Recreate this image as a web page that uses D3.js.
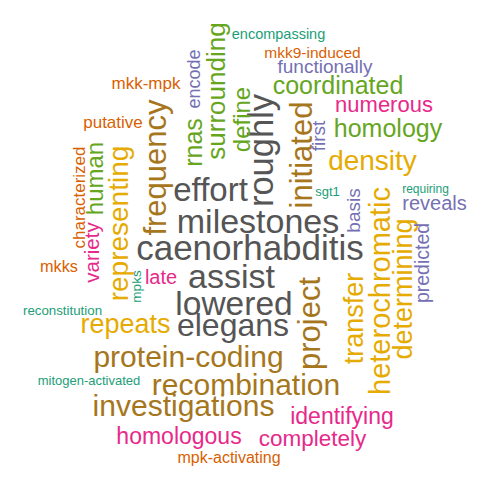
<!DOCTYPE html>
<html>
<head>
<meta charset="utf-8">
<script src="https://cdn.jsdelivr.net/npm/d3@7"></script>
<style>
  body { margin: 0; background: #fff; }
  text { font-family: "Liberation Sans", Arial, Helvetica, sans-serif; }
</style>
</head>
<body>
<div id="viz_container"></div>
<script>
// words of the cloud, with their frequency weight and colour group
const words = ["caenorhabditis", "milestones", "roughly", "effort", "assist", "lowered", "elegans",
  "frequency", "initiated", "project", "protein-coding", "recombination", "investigations",
  "density", "heterochromatic", "representing", "repeats", "transfer", "determining",
  "coordinated", "homology", "surrounding", "rnas", "define", "human",
  "numerous", "identifying", "completely", "homologous", "late", "variety",
  "functionally", "reveals", "predicted", "encode", "basis", "first",
  "putative", "mkk-mpk", "characterized", "mkk9-induced", "mkks", "mpk-activating",
  "encompassing", "requiring", "sgt1", "reconstitution", "mitogen-activated", "mpks"];

const freq = [35, 34, 34.5, 33, 34, 33.5, 32,
  31, 31, 31, 30, 30, 30,
  28, 29, 28, 27, 27, 27,
  25, 25, 26, 25, 24, 24,
  22, 23, 22.5, 23, 20, 20.5,
  19, 20, 19.5, 18, 19, 19,
  17, 17, 17, 15.5, 16.3, 16,
  14.5, 12, 13, 13.3, 13, 13.5];

// colour group: index into the Dark2 palette
const group = [7, 7, 7, 7, 7, 7, 7,
  6, 6, 6, 6, 6, 6,
  5, 5, 5, 5, 5, 5,
  4, 4, 4, 4, 4, 4,
  3, 3, 3, 3, 3, 3,
  2, 2, 2, 2, 2, 2,
  1, 1, 1, 1, 1, 1,
  0, 0, 0, 0, 0, 0];

// 1 = word placed vertically
const vertical = [0, 0, 1, 0, 0, 0, 0,
  1, 1, 1, 0, 0, 0,
  0, 1, 1, 0, 1, 1,
  0, 0, 1, 1, 1, 1,
  0, 0, 0, 0, 0, 1,
  0, 0, 1, 1, 1, 1,
  0, 0, 1, 0, 0, 0,
  0, 0, 0, 0, 0, 1];

// placement of each word in cloud units (0-100)
const posX = [50, 51.6, 52.1, 42.1, 46.3, 46.8, 46.6,
  31, 60.2, 61.8, 37.7, 49.2, 36.7,
  74.5, 76, 23.6, 25.1, 70.7, 80.6,
  67.6, 77.6, 43.2, 38.6, 48.3, 18.9,
  76.8, 68.4, 62.5, 35.8, 32.2, 18.4,
  65, 86.9, 84.4, 38.7, 70.7, 63.7,
  22.6, 29.2, 15.8, 62.5, 11.8, 45.8,
  55.7, 85.1, 65.5, 12.5, 17.8, 27.2];

const posY = [49.6, 44.2, 30.1, 37.8, 55.2, 60.6, 65,
  33.5, 31, 64.7, 71.3, 76.9, 81,
  32, 58.2, 44.7, 64.8, 63.7, 57.8,
  17.1, 25.7, 18.2, 28.5, 23.9, 35.7,
  20.8, 83.2, 87.6, 87.2, 55.3, 50.5,
  13.3, 40.6, 52.6, 15.8, 42.1, 27.2,
  24.5, 16.7, 39.5, 10.5, 53.3, 91.5,
  6.8, 37.7, 38.3, 62.1, 76.1, 57.3];

const width = 500;
const height = 500;

const data = words.map((w, i) => ({
  word: w, freq: freq[i], group: group[i], vertical: vertical[i], x: posX[i], y: posY[i]
}));

const svg = d3.select("#viz_container")
  .append("svg")
    .attr("width", width)
    .attr("height", height);

// scales
const xScale = d3.scaleLinear().domain([0, 100]).range([0, width]);
const yScale = d3.scaleLinear().domain([0, 100]).range([0, height]);
const sizeScale = d3.scaleLinear().domain([12, 35]).range([12, 35]);
const color = d3.scaleOrdinal()
  .domain(d3.range(8))
  .range(["#1B9E77", "#D95F02", "#7570B3", "#E7298A", "#66A61E", "#E6AB02", "#A6761D", "#555555"]);

svg.selectAll("text")
  .data(data)
  .join("text")
    .attr("transform", d => `translate(${xScale(d.x)},${yScale(d.y)})` + (d.vertical ? " rotate(-90)" : ""))
    .attr("text-anchor", "middle")
    .attr("dy", "0.35em")
    .style("font-size", d => sizeScale(d.freq) + "px")
    .style("fill", d => color(d.group))
    .text(d => d.word);
</script>
</body>
</html>
